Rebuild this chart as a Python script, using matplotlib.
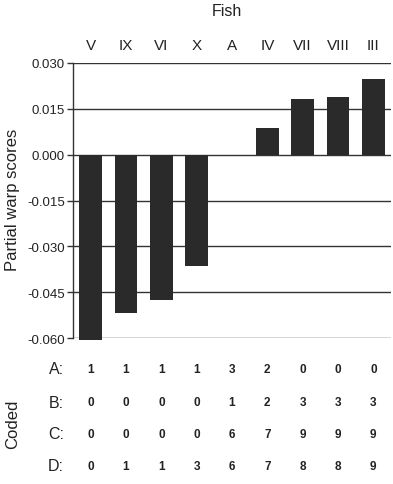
import matplotlib
matplotlib.use("Agg")
import matplotlib.pyplot as plt
from matplotlib.transforms import blended_transform_factory

plt.rcParams['font.family'] = ['Liberation Sans', 'DejaVu Sans']

fish = ['V', 'IX', 'VI', 'X', 'A', 'IV', 'VII', 'VIII', 'III']
scores = [-0.0607, -0.0519, -0.0476, -0.0365, 0.0, 0.0087, 0.0183, 0.0189, 0.0249]
code_rows = ['A:', 'B:', 'C:', 'D:']
code_a = [1, 1, 1, 1, 3, 2, 0, 0, 0]
code_b = [0, 0, 0, 0, 1, 2, 3, 3, 3]
code_c = [0, 0, 0, 0, 6, 7, 9, 9, 9]
code_d = [0, 1, 1, 3, 6, 7, 8, 8, 9]
yticks = [0.030, 0.015, 0.000, -0.015, -0.030, -0.045, -0.060]

W, H = 393, 485
fig = plt.figure(figsize=(W / 100, H / 100), dpi=100)
ax = fig.add_axes([73 / W, (H - 339) / H, 318 / W, 275 / H])

x = list(range(len(fish)))
for yt in yticks:
    ax.axhline(yt, color='#333333', lw=1.0, zorder=1)
ax.bar(x, scores, width=0.65, color='#2a2a2a', zorder=3, clip_on=False)

ax.set_xlim(-0.5, len(fish) - 0.5)
ax.set_ylim(-0.060, 0.030)
ax.set_yticks(yticks)
ax.set_yticklabels([f'{v:.3f}' for v in yticks], fontsize=9.5, color='#222222')
ax.tick_params(axis='y', direction='out', length=4, width=1, color='#333333', pad=2)

ax.xaxis.tick_top()
ax.set_xticks(x)
ax.set_xticklabels(fish, fontsize=11, color='#222222')
ax.tick_params(axis='x', length=0, pad=8)

for s in ['top', 'right', 'bottom']:
    ax.spines[s].set_visible(False)
ax.spines['left'].set_color('#333333')
ax.spines['left'].set_linewidth(1.0)

# axis titles placed in figure pixels
fig.text(13 / W, 1 - 200 / H, 'Partial warp scores', fontsize=12, rotation=90,
         ha='center', va='center', color='#222222')
fig.text(227 / W, 1 - 11 / H, 'Fish', fontsize=11.5, ha='center', va='center', color='#222222')

trans = blended_transform_factory(ax.transData, fig.transFigure)
row_y = [370, 403, 435, 467]
for lab, vals, yy in zip(code_rows, [code_a, code_b, code_c, code_d], row_y):
    fig.text(64 / W, 1 - yy / H, lab, fontsize=11.5, ha='right', va='center', color='#222222')
    for xi, v in zip(x, vals):
        ax.text(xi, 1 - yy / H, str(v), transform=trans, fontsize=8.5, fontweight='bold',
                ha='center', va='center', color='#222222')

fig.text(13 / W, 1 - 424 / H, 'Coded', fontsize=12, rotation=90, ha='center', va='center',
         color='#222222')

fig.savefig('out.png', dpi=100)
